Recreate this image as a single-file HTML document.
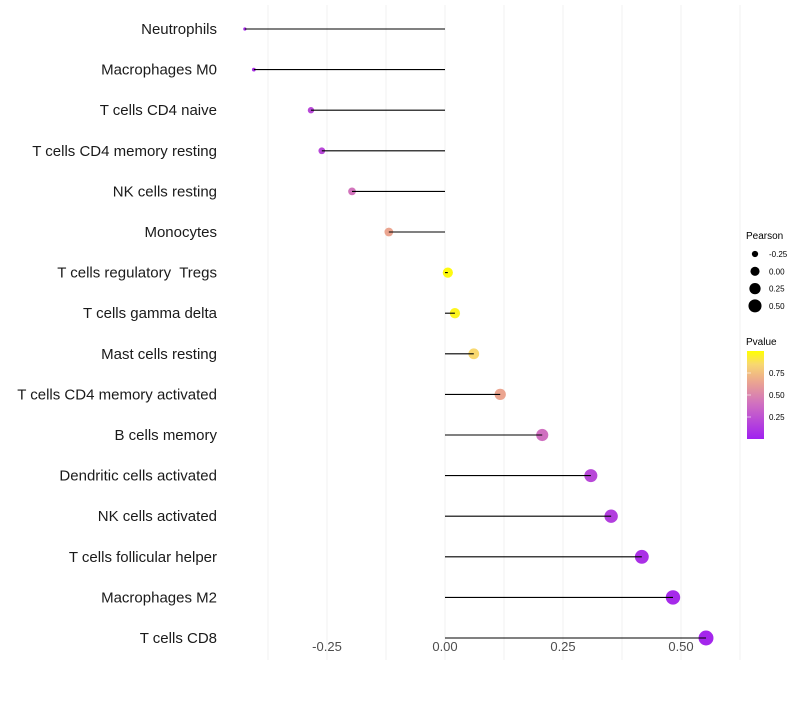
<!DOCTYPE html>
<html><head><meta charset="utf-8"><style>
body{margin:0;background:#fff;font-family:"Liberation Sans",sans-serif}
text{white-space:pre}
</style></head><body>
<svg id="chart" width="800" height="700" font-family="Liberation Sans, sans-serif"></svg>
<script>
const categories=["Neutrophils","Macrophages M0","T cells CD4 naive","T cells CD4 memory resting","NK cells resting","Monocytes","T cells regulatory  Tregs","T cells gamma delta","Mast cells resting","T cells CD4 memory activated","B cells memory","Dendritic cells activated","NK cells activated","T cells follicular helper","Macrophages M2","T cells CD8"];
const pearson=[-0.424,-0.405,-0.284,-0.261,-0.197,-0.119,0.006,0.021,0.061,0.117,0.206,0.309,0.352,0.417,0.483,0.553];
const pvalues=[0.05,0.08,0.2,0.2,0.42,0.65,0.98,0.96,0.85,0.65,0.4,0.2,0.15,0.08,0.05,0.03];
const xTicks=[-0.25,0,0.25,0.5];
const xTickLabels=["-0.25","0.00","0.25","0.50"];
const gridLines=[-0.375,-0.25,-0.125,0,0.125,0.25,0.375,0.5,0.625];
const sizeBreaks=[-0.25,0,0.25,0.5];
const sizeLabels=["-0.25","0.00","0.25","0.50"];
const pBreaks=[0.25,0.5,0.75];
const pLabels=["0.25","0.50","0.75"];

const NS="http://www.w3.org/2000/svg";
const svg=document.getElementById('chart');
const x=v=>445+v*472;
const y=i=>29+i*40.6;
const vmin=-0.43,vmax=0.56;
const r=v=>Math.sqrt(2.25+53.75*Math.max(0,(v-vmin))/(vmax-vmin));
const cstops=[[0,[160,32,240]],[0.4,[208,112,192]],[0.65,[235,165,144]],[0.85,[248,216,112]],[1,[255,255,0]]];
function col(p){for(let k=1;k<cstops.length;k++){if(p<=cstops[k][0]){const [p0,a]=cstops[k-1],[p1,b]=cstops[k];const t=(p-p0)/(p1-p0);return 'rgb('+a.map((c,j)=>Math.round(c+(b[j]-c)*t)).join(',')+')';}}return 'rgb(255,255,0)';}
function el(t,at,txt){const e=document.createElementNS(NS,t);for(const k in at)e.setAttribute(k,at[k]);if(txt!=null)e.textContent=txt;svg.appendChild(e);return e;}

gridLines.forEach(g=>{const e=el('line',{x1:x(g),x2:x(g),y1:5,y2:660,stroke:'#f0f0f0','stroke-width':1});

});
xTicks.forEach((t,i)=>{const e=el('text',{x:x(t),y:651,'text-anchor':'middle','font-size':13,fill:'#4d4d4d'},xTickLabels[i]);

});
categories.forEach((c,i)=>{
const t=el('text',{x:217,y:y(i)+5,'text-anchor':'end','font-size':15,fill:'#1a1a1a'},c);


const d=el('circle',{cx:x(pearson[i]),cy:y(i),r:r(pearson[i]),fill:col(pvalues[i])});


const l=el('line',{x1:x(0),x2:x(pearson[i]),y1:y(i),y2:y(i),stroke:'#000','stroke-width':1.1});


});
let e=el('text',{x:746,y:239,'font-size':10,fill:'#000'},'Pearson');


sizeBreaks.forEach((s,i)=>{const cy=254+i*17.3;
const c=el('circle',{cx:755,cy:cy,r:r(s)*0.9,fill:'#000'});


const t=el('text',{x:769,y:cy+3,'font-size':8,fill:'#000'},sizeLabels[i]);

});
e=el('text',{x:746,y:345,'font-size':10,fill:'#000'},'Pvalue');


const defs=el('defs',{});
const g=document.createElementNS(NS,'linearGradient');g.setAttribute('id','pg');g.setAttribute('x1',0);g.setAttribute('y1',1);g.setAttribute('x2',0);g.setAttribute('y2',0);
cstops.forEach(([p])=>{const s=document.createElementNS(NS,'stop');s.setAttribute('offset',p);s.setAttribute('stop-color',col(p));g.appendChild(s);});
defs.appendChild(g);
const pY=p=>439-p*88;
e=el('rect',{x:747,y:pY(1),width:17,height:88,fill:'url(#pg)'});


pBreaks.forEach((p,i)=>{
const t=el('text',{x:769,y:pY(p)+3,'font-size':8,fill:'#000'},pLabels[i]);


const tk=el('line',{x1:747,x2:751,y1:pY(p),y2:pY(p),stroke:'#fff','stroke-width':0.6});

});
</script>
</body></html>
